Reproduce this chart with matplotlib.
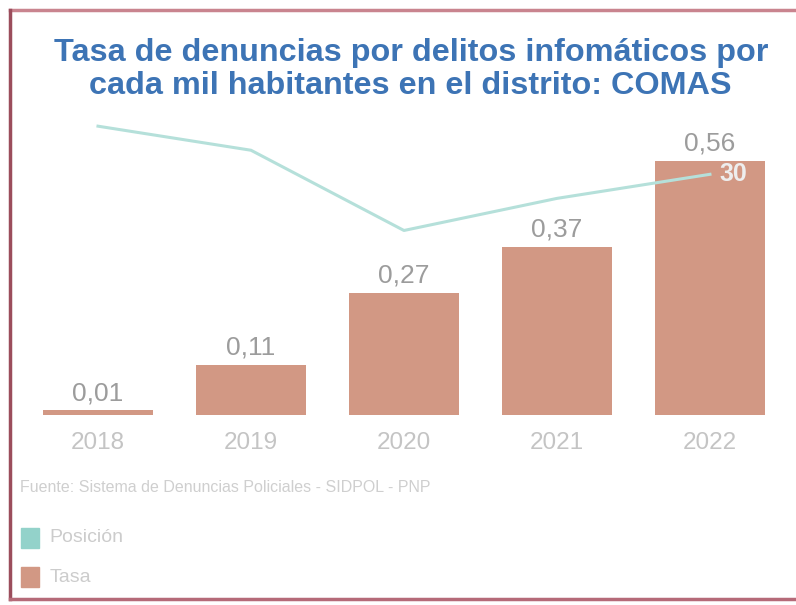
import numpy as np
import matplotlib.pyplot as plt
from matplotlib.patches import Rectangle

plt.rcParams["font.family"] = ["Liberation Sans", "DejaVu Sans"]

# %% data
years = ["2018", "2019", "2020", "2021", "2022"]
tasa = [0.01, 0.11, 0.27, 0.37, 0.56]
posicion = [36, 33, 23, 27, 30]
tasa_labels = ["0,01", "0,11", "0,27", "0,37", "0,56"]

bar_color = "#d29884"
line_color = "#b5e0da"
legend_teal = "#93d2ca"

# %% plot
fig = plt.figure(figsize=(7.96, 6.05), dpi=100)
fig.patch.set_facecolor("white")

ax = fig.add_axes([0.027, 0.314, 0.961, 0.4496])
x = np.arange(len(years))
ax.bar(x, tasa, width=0.72, color=bar_color, zorder=1)
ax.set_xlim(-0.5, 4.5)
ax.set_ylim(0, 0.6)
for xi, v, lab in zip(x, tasa, tasa_labels):
    ax.text(xi, v + 0.012, lab, ha="center", va="bottom", fontsize=19,
            color="#9c9c9c", clip_on=False)

ax.set_xticks(x)
ax.set_xticklabels(years, fontsize=17.5, color="#c4c4c4")
ax.tick_params(axis="x", length=0, pad=12)
ax.set_yticks([])
for s in ax.spines.values():
    s.set_visible(False)

ax_pos = ax.twinx()
ax_pos.plot(x, posicion, color=line_color, lw=2.2, clip_on=False, zorder=3)
ax_pos.set_ylim(0, 33.9)
ax_pos.set_yticks([])
for s in ax_pos.spines.values():
    s.set_visible(False)
ax_pos.text(x[-1] + 0.15, posicion[-1], str(posicion[-1]), ha="center",
            va="center", fontsize=18, fontweight="bold", color="#eeeeee",
            clip_on=False)

# title
fig.text(0.516, 0.885, "Tasa de denuncias por delitos infomáticos por\n"
         "cada mil habitantes en el distrito: COMAS",
         ha="center", va="center", fontsize=23.3, fontweight="bold",
         color="#3d74b5", linespacing=1.12)

# source
fig.text(0.025, 0.195, "Fuente: Sistema de Denuncias Policiales - SIDPOL - PNP",
         ha="left", va="center", fontsize=11.5, color="#cfcfcf")

# legend
fig.patches.append(Rectangle((0.026, 0.095), 0.023, 0.033, color=legend_teal,
                             transform=fig.transFigure))
fig.text(0.062, 0.111, "Posición", ha="left", va="center", fontsize=14,
         color="#cccccc")
fig.patches.append(Rectangle((0.026, 0.029), 0.023, 0.033, color=bar_color,
                             transform=fig.transFigure))
fig.text(0.062, 0.045, "Tasa", ha="left", va="center", fontsize=14,
         color="#cccccc")

# frame
fig.add_artist(plt.Line2D([0.013, 1.0], [0.983, 0.983], color="#c9848f",
                          lw=2.5, transform=fig.transFigure))
fig.add_artist(plt.Line2D([0.013, 0.013], [0.983, 0.010], color="#9b4d5c",
                          lw=2.5, transform=fig.transFigure))
fig.add_artist(plt.Line2D([0.013, 1.0], [0.010, 0.010], color="#b56a78",
                          lw=2.5, transform=fig.transFigure))

fig.savefig("out.png", dpi=100)
